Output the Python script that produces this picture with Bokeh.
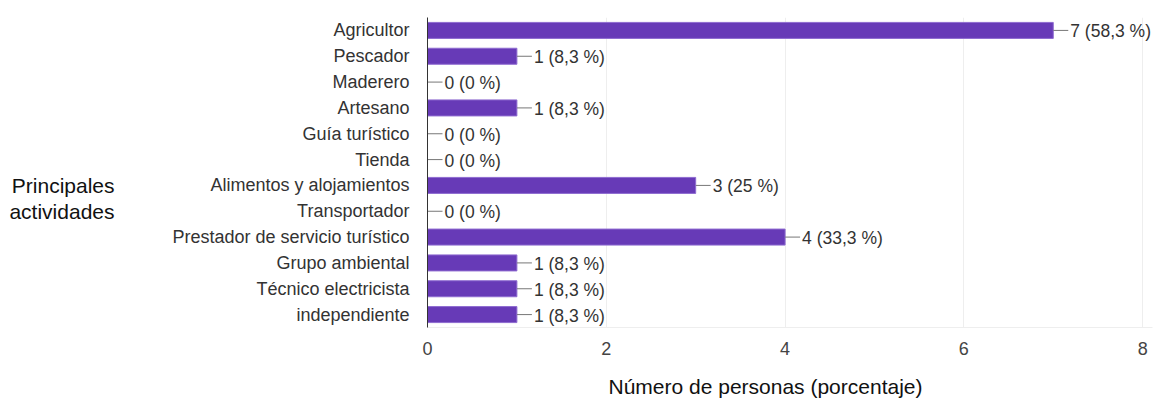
from bokeh.plotting import figure
from bokeh.models import (FactorRange, Range1d, FixedTicker, ColumnDataSource,
                          CategoricalAxis, Title)
from bokeh.embed import file_html
from bokeh.resources import INLINE
from bokeh.core.properties import value

categories = ["Agricultor", "Pescador", "Maderero", "Artesano", "Guía turístico", "Tienda",
              "Alimentos y alojamientos", "Transportador", "Prestador de servicio turístico",
              "Grupo ambiental", "Técnico electricista", "independiente"]
counts = [7, 1, 0, 1, 0, 0, 3, 0, 4, 1, 1, 1]
percent_labels = ["58,3", "8,3", "0", "8,3", "0", "0", "25", "0", "33,3", "8,3", "8,3", "8,3"]
x_ticks = [0, 2, 4, 6, 8]
y_title_lines = {"Alimentos y alojamientos": "Principales", "Transportador": "actividades"}

labels = [f"{c} ({p} %)" for c, p in zip(counts, percent_labels)]
src = ColumnDataSource(dict(cat=categories, n=counts, lab=labels))

FONT = "Liberation Sans"
rev = list(reversed(categories))
title_factors = [y_title_lines.get(c, " " * (i + 1)) for i, c in enumerate(rev)]

# frame 427..1152 px; value 8 sits at 1142 px, leaving room for the last label
p = figure(width=1156, height=412, output_backend="svg", toolbar_location=None,
           y_range=FactorRange(*rev, range_padding=0),
           x_range=Range1d(0, 8.11),
           min_border_left=427, min_border_right=4, min_border_top=17, min_border_bottom=80)
p.extra_y_ranges = {"title": FactorRange(*title_factors, range_padding=0)}
p.outline_line_color = None

p.hbar(y="cat", right="n", left=0, height=0.62, source=src,
       fill_color="#673ab7", line_color="#8e6bd0", line_width=1)
p.ray(x="n", y="cat", length=15, length_units="screen", angle=0, source=src,
      line_color="#777777", line_width=1)
p.text(x="n", y="cat", text="lab", source=src, x_offset=17, y_offset=1,
       text_font=value(FONT), text_font_size="17.5px", text_color="#333333",
       text_baseline="middle", text_align="left")

p.xgrid.ticker = FixedTicker(ticks=x_ticks)
p.xgrid.grid_line_color = "#eeeeee"
p.ygrid.grid_line_color = None

xa = p.xaxis[0]
xa.ticker = FixedTicker(ticks=x_ticks)
xa.axis_line_color = "#eeeeee"
xa.major_tick_line_color = None
xa.minor_tick_line_color = None
xa.major_label_text_font = FONT
xa.major_label_text_font_size = "18px"
xa.major_label_text_color = "#444444"
xa.major_label_standoff = 8

p.add_layout(Title(text="Número de personas (porcentaje)", align="left", offset=181,
                   text_font=FONT, text_font_size="21px", text_font_style="normal",
                   text_color="#111111", standoff=30), "below")

ya = p.yaxis[0]
ya.axis_line_color = "#333333"
ya.axis_line_width = 1
ya.major_tick_line_color = None
ya.minor_tick_line_color = None
ya.major_label_text_font = FONT
ya.major_label_text_font_size = "18px"
ya.major_label_text_color = "#333333"
ya.major_label_standoff = 12

ta = CategoricalAxis(y_range_name="title")
ta.axis_line_color = None
ta.major_tick_line_color = None
ta.minor_tick_line_color = None
ta.major_label_text_font = FONT
ta.major_label_text_font_size = "21px"
ta.major_label_text_color = "#111111"
ta.major_label_standoff = 49
p.add_layout(ta, "left")

open("out.html", "w").write(file_html(p, INLINE))
